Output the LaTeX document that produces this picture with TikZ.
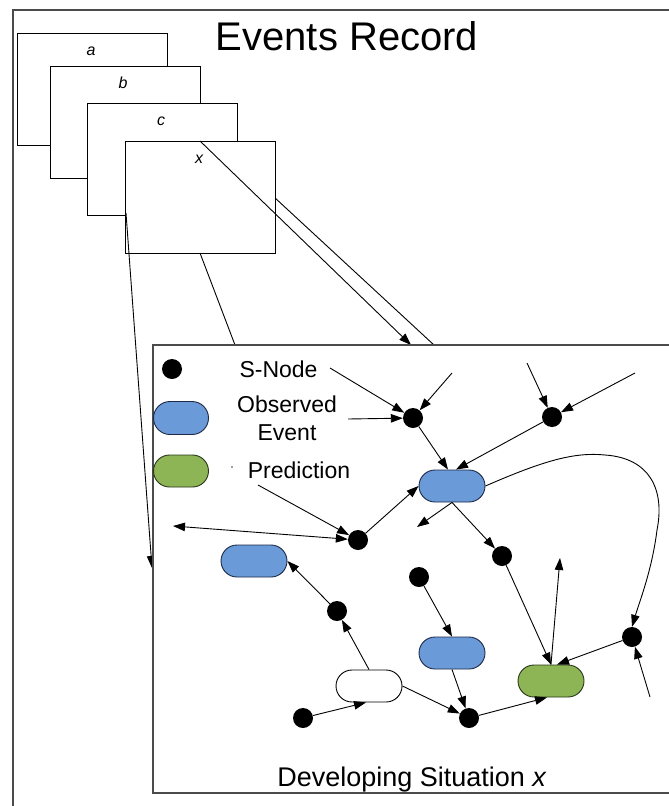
\documentclass[tikz,border=0pt]{standalone}
\usepackage{fontspec}
\setmainfont{Liberation Sans}
\usetikzlibrary{arrows.meta,shapes.misc}
\definecolor{obsblue}{RGB}{106,154,216}
\definecolor{predgreen}{RGB}{141,180,85}
\definecolor{obsline}{RGB}{30,42,70}
\definecolor{predline}{RGB}{40,55,25}
\definecolor{frameline}{RGB}{75,75,75}
\begin{document}
\begin{tikzpicture}[x=1pt,y=-1pt,
  snode/.style={circle,fill=black,minimum size=20pt,inner sep=0pt},
  pill/.style={rounded rectangle,line width=0.9pt,minimum width=66pt,minimum height=32pt,inner sep=0pt},
  obs/.style={pill,draw=obsline,fill=obsblue},
  pred/.style={pill,draw=predline,fill=predgreen},
  plain/.style={pill,draw=black,fill=white},
  card/.style={draw=black,fill=white,line width=1.2pt,minimum width=150pt,minimum height=112pt,anchor=north west,inner sep=0pt},
  cardlbl/.style={font=\fontsize{16}{18}\selectfont\itshape,anchor=base,inner sep=0pt},
  legtxt/.style={font=\fontsize{23}{26}\selectfont,anchor=base,inner sep=0pt},
  tip/.style={Triangle[length=12pt,width=8.5pt]},
  conn/.style={line width=0.9pt,-{Triangle[length=12pt,width=8.5pt]}},
  thin/.style={line width=0.9pt},
  frame/.style={draw=frameline,line width=1.5pt}
  ]
\useasboundingbox (0,0) rectangle (669,806);
% outer frame
\draw[frame] (13,10) rectangle (690,830);
\node[font=\fontsize{40}{44}\selectfont,anchor=base,inner sep=0pt] (title) at (347,50) {Events Record};
% stacked cards
\node[card] (ca) at (17,33) {};
\node[cardlbl] (la) at (91,55) {a};
\node[card] (cb) at (50,66) {};
\node[cardlbl] (lb) at (123,88) {b};
\node[card] (cc) at (87,103) {};
\node[cardlbl] (lc) at (161,125) {c};
% coordinates for the links from card x
\coordinate (p2s) at (274,197);
\coordinate (p2e) at (434,345);
\draw[thin] (p2s) -- (p2e);
\node[card] (cx) at (125,141) {};
\node[cardlbl] (lx) at (199,163) {x};
\coordinate (p1s) at (200,141);
\coordinate (p1e) at (411,345);
\coordinate (p3s) at (200,253);
\coordinate (p3e) at (235,345);
\coordinate (p4s) at (126,213);
\coordinate (p4e) at (152,568);
\draw[conn] (p1s) -- (p1e);
\draw[thin] (p3s) -- (p3e);
\draw[conn] (p4s) -- (p4e);
% inner frame
\draw[frame,fill=white] (153,345) rectangle (690,793);
\node[font=\fontsize{27}{30}\selectfont,anchor=base,inner sep=0pt] (devtitle) at (412,786) {Developing Situation \textit{x}};
% legend
\node[snode] (lgs) at (172,369) {};
\node[obs,minimum width=55pt,minimum height=33pt] (lgo) at (181,418) {};
\node[pred,minimum width=55pt,minimum height=32pt] (lgp) at (181,471) {};
\node[legtxt] (tsn) at (278.5,377) {S-Node};
\node[legtxt] (tob) at (287,412) {Observed};
\node[legtxt] (tev) at (287,440) {Event};
\node[legtxt] (tpr) at (299,478) {Prediction};
\fill[gray] (232,467) circle (1.1);
% main nodes
\node[snode] (S1) at (413,418) {};
\node[snode] (S2) at (552,417) {};
\node[obs] (E1) at (452,486) {};
\node[snode] (S3) at (358,540) {};
\node[obs] (E2) at (254,561) {};
\node[snode] (S4) at (502,556) {};
\node[snode] (S5) at (419,577) {};
\node[snode] (S6) at (337,611) {};
\node[obs] (E3) at (452,653) {};
\node[plain] (W) at (369,686) {};
\node[pred] (G) at (551,681) {};
\node[snode] (S7) at (632,637) {};
\node[snode] (S8) at (303,718) {};
\node[snode] (S9) at (469,718) {};
% free ends
\coordinate (f1) at (452,373);
\coordinate (f2) at (527,363);
\coordinate (f3) at (635,373);
\coordinate (tsnE) at (330,368);
\coordinate (tobE) at (348,419);
\coordinate (tprS) at (258,485);
\coordinate (f4) at (173,526);
\coordinate (f5) at (417,527);
\coordinate (f6) at (560,558);
\coordinate (f7) at (650,697);
% connectors
\draw[conn] (tsnE) -- (S1);
\draw[conn] (tobE) -- (S1);
\draw[conn] (f1) -- (S1);
\draw[conn] (f2) -- (S2);
\draw[conn] (f3) -- (S2);
\draw[conn] (S1) -- ([xshift=-4pt]E1.north);
\draw[conn] (S2) -- ([xshift=4pt]E1.north);
\draw[conn] (tprS) -- (S3);
\draw[conn] (S3) -- (E1.west);
\draw[line width=0.9pt,{Triangle[length=12pt,width=8.5pt]}-{Triangle[length=12pt,width=8.5pt]}] (f4) -- (S3);
\draw[conn] (E1.south) -- (f5);
\draw[conn] (E1.south) -- (S4);
\draw[conn] (E1.east) .. controls (545,460) and (575,452) .. (605,455)
  .. controls (650,458) and (665,490) .. (657,530)
  .. controls (652,570) and (640,600) .. (S7.north);
\draw[conn] (S4) -- (G.north);
\draw[conn] (G.north) -- (f6);
\draw[conn] (S7) -- ([xshift=6pt]G.north);
\draw[conn] (f7) -- (S7);
\draw[conn] (S5) -- (E3.north);
\draw[conn] (E3.south) -- (S9);
\draw[conn] (W.east) -- (S9);
\draw[conn] (S8) -- ([xshift=-3pt]W.south);
\draw[conn] (W.north) -- (S6);
\draw[conn] (S6) -- (E2.east);
\draw[conn] (S9) -- ([xshift=-4pt]G.south);
\end{tikzpicture}
\end{document}
